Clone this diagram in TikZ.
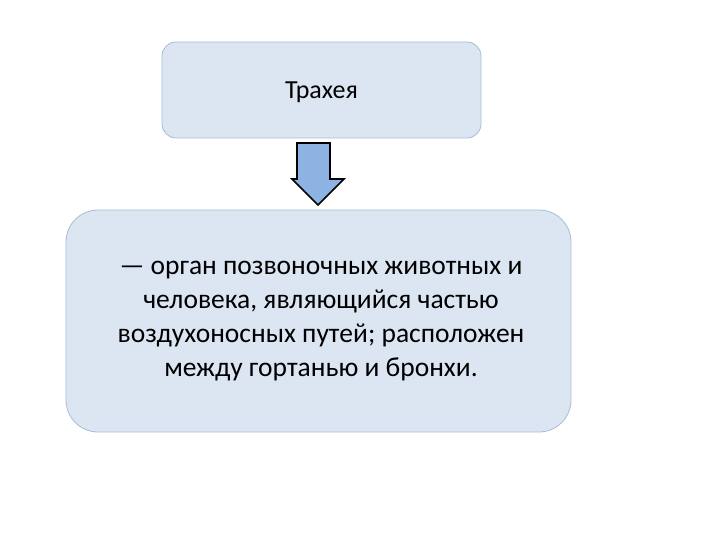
\documentclass[tikz,border=0pt]{standalone}
\usepackage{fontspec}
\setmainfont{Carlito}
\begin{document}
\begin{tikzpicture}[x=1pt,y=-1pt,
  boxst/.style={draw=boxline,fill=boxfill,line width=0.8pt},
]
\definecolor{boxfill}{HTML}{DCE6F2}
\definecolor{boxline}{HTML}{A7BCD6}
\definecolor{arrfill}{HTML}{8DB3E2}
\useasboundingbox (0,0) rectangle (720,540);
\draw[boxst,rounded corners=14pt] (162,42) rectangle (481,138);
\node[font=\fontsize{26}{30}\selectfont] (top) at (321.5,92) {Трахея};
\draw[boxst,rounded corners=32pt] (66,210) rectangle (571,432);
\node[align=center,font=\fontsize{27.5}{34}\selectfont] (bot) at (321,321) {— орган позвоночных животных и\\человека, являющийся частью\\воздухоносных путей; расположен\\между гортанью и бронхи.};
\draw[fill=arrfill,line width=1.6pt,line join=miter]
  (297,143) -- (330,143) -- (330,179) -- (344,179) -- (318,205) -- (292,179) -- (297,179) -- cycle;
\end{tikzpicture}
\end{document}
